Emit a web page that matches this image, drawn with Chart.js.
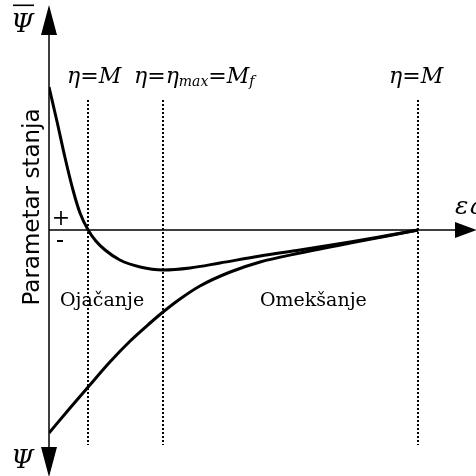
<!DOCTYPE html>
<html>
<head>
<meta charset="utf-8">
<script src="https://cdn.jsdelivr.net/npm/chart.js@4"></script>
<style>
  html, body { margin: 0; padding: 0; background: #fff; }
  canvas { display: block; }
</style>
</head>
<body>
<canvas id="stateChart" width="476" height="476"></canvas>
<script>
// Parametar stanja vs. deviatorska deformacija (eps_q)
const upperStrain = [0, 0.022, 0.043, 0.065, 0.084, 0.106, 0.127, 0.152, 0.192, 0.247, 0.309, 0.382, 0.463, 0.572, 0.680, 0.816, 0.924, 1.0];
const upperPsi = [1.43, 1.08, 0.73, 0.40, 0.17, 0, -0.11, -0.20, -0.30, -0.37, -0.40, -0.38, -0.33, -0.26, -0.20, -0.12, -0.05, 0];
const lowerStrain = [0, 0.057, 0.106, 0.165, 0.220, 0.274, 0.309, 0.355, 0.409, 0.491, 0.572, 0.680, 0.816, 0.924, 1.0];
const lowerPsi = [-2.03, -1.78, -1.57, -1.32, -1.11, -0.93, -0.82, -0.69, -0.56, -0.42, -0.32, -0.23, -0.13, -0.055, 0];
const markerStrain = [0.106, 0.309, 1.0];
// each marker label is a list of [text, isSubscript]
const markerLabels = [
    [['η=M', false]],
    [['η=η', false], ['max', true], ['=M', false], ['f', true]],
    [['η=M', false]]
];
const regionLabels = ['Ojačanje', 'Omekšanje'];
const axisTitle = 'Parametar stanja';

const toPoints = (xs, ys) => xs.map((x, i) => ({ x: x, y: ys[i] }));

const mathFont = (size) => 'italic ' + size + 'px "DejaVu Serif"';

function arrowHead(ctx, tipX, tipY, dir, len, half) {
    ctx.beginPath();
    if (dir === 'up') {
        ctx.moveTo(tipX, tipY);
        ctx.lineTo(tipX - half, tipY + len);
        ctx.lineTo(tipX + half, tipY + len);
    } else if (dir === 'down') {
        ctx.moveTo(tipX, tipY);
        ctx.lineTo(tipX - half, tipY - len);
        ctx.lineTo(tipX + half, tipY - len);
    } else {
        ctx.moveTo(tipX, tipY);
        ctx.lineTo(tipX - len, tipY - half);
        ctx.lineTo(tipX - len, tipY + half);
    }
    ctx.closePath();
    ctx.fill();
}

function drawRich(ctx, x, baseline, parts) {
    let cx = x;
    parts.forEach(([text, sub]) => {
        ctx.font = mathFont(sub ? 14 : 22);
        ctx.fillText(text, cx, baseline + (sub ? 3 : 0));
        cx += ctx.measureText(text).width;
    });
}

// axes with arrows and the dotted marker lines go under the curves
const axesPlugin = {
    id: 'axesPlugin',
    beforeDatasetsDraw(chart) {
        const ctx = chart.ctx;
        const xs = chart.scales.x, ys = chart.scales.y;
        const x0 = xs.getPixelForValue(0);
        const y0 = ys.getPixelForValue(0);
        ctx.save();
        ctx.strokeStyle = '#000';
        ctx.fillStyle = '#000';
        ctx.lineWidth = 1.5;
        ctx.beginPath();
        ctx.moveTo(x0, 10);
        ctx.lineTo(x0, 470);
        ctx.moveTo(x0, y0);
        ctx.lineTo(470, y0);
        ctx.stroke();
        arrowHead(ctx, x0, 5, 'up', 30, 8);
        arrowHead(ctx, x0, 477, 'down', 30, 8);
        arrowHead(ctx, 477, y0, 'right', 22, 8);

        // dotted marker lines
        ctx.setLineDash([2, 2]);
        ctx.lineWidth = 2;
        const top = ys.getPixelForValue(1.30), bottom = ys.getPixelForValue(-2.15);
        markerStrain.forEach(m => {
            const px = Math.round(xs.getPixelForValue(m));
            ctx.beginPath();
            ctx.moveTo(px, top);
            ctx.lineTo(px, bottom);
            ctx.stroke();
        });
        ctx.restore();
    },
    afterDraw(chart) {
        const ctx = chart.ctx;
        const xs = chart.scales.x, ys = chart.scales.y;
        const x0 = xs.getPixelForValue(0);
        const y0 = ys.getPixelForValue(0);
        ctx.save();
        ctx.fillStyle = '#000';
        ctx.textBaseline = 'alphabetic';
        ctx.textAlign = 'left';

        // marker labels above the dotted lines
        const offsets = [-21, -29, -29];
        markerLabels.forEach((parts, i) => {
            drawRich(ctx, xs.getPixelForValue(markerStrain[i]) + offsets[i], 83, parts);
        });

        // axis symbols
        ctx.font = mathFont(26);
        ctx.fillText('Ψ', 11, 32);
        ctx.fillRect(13, 4.5, 21, 1.6);
        ctx.fillText('Ψ', 11, 468);
        ctx.font = mathFont(25);
        ctx.fillText('εq', 455, y0 - 16);

        // sign marks
        ctx.font = '22px "DejaVu Serif"';
        ctx.textAlign = 'center';
        ctx.fillText('+', x0 + 12, y0 - 5);
        ctx.fillRect(x0 + 8, y0 + 10, 6, 2);

        // region labels
        ctx.textAlign = 'left';
        ctx.font = '19px "DejaVu Serif"';
        ctx.fillText(regionLabels[0], x0 + 11, 306);
        ctx.fillText(regionLabels[1], 260, 306);

        // rotated axis title
        ctx.font = '23px "DejaVu Sans"';
        ctx.textAlign = 'center';
        ctx.translate(39, 207);
        ctx.rotate(-Math.PI / 2);
        ctx.fillText(axisTitle, 0, 0);
        ctx.restore();
    }
};

const curveStyle = {
    borderColor: '#000',
    borderWidth: 3,
    pointRadius: 0,
    fill: false,
    showLine: true,
    cubicInterpolationMode: 'monotone'
};

new Chart(document.getElementById('stateChart').getContext('2d'), {
    type: 'scatter',
    data: {
        datasets: [
            Object.assign({ label: 'Ψ̄', data: toPoints(upperStrain, upperPsi) }, curveStyle),
            Object.assign({ label: 'Ψ', data: toPoints(lowerStrain, lowerPsi) }, curveStyle)
        ]
    },
    options: {
        responsive: false,
        animation: false,
        layout: { padding: { left: 49, right: 0, top: 0, bottom: 0 } },
        plugins: {
            legend: { display: false },
            tooltip: { enabled: false }
        },
        scales: {
            x: { type: 'linear', display: false, min: 0, max: 1.157 },
            y: { type: 'linear', display: false, min: -2.46, max: 2.30 }
        }
    },
    plugins: [axesPlugin]
});
</script>
</body>
</html>
